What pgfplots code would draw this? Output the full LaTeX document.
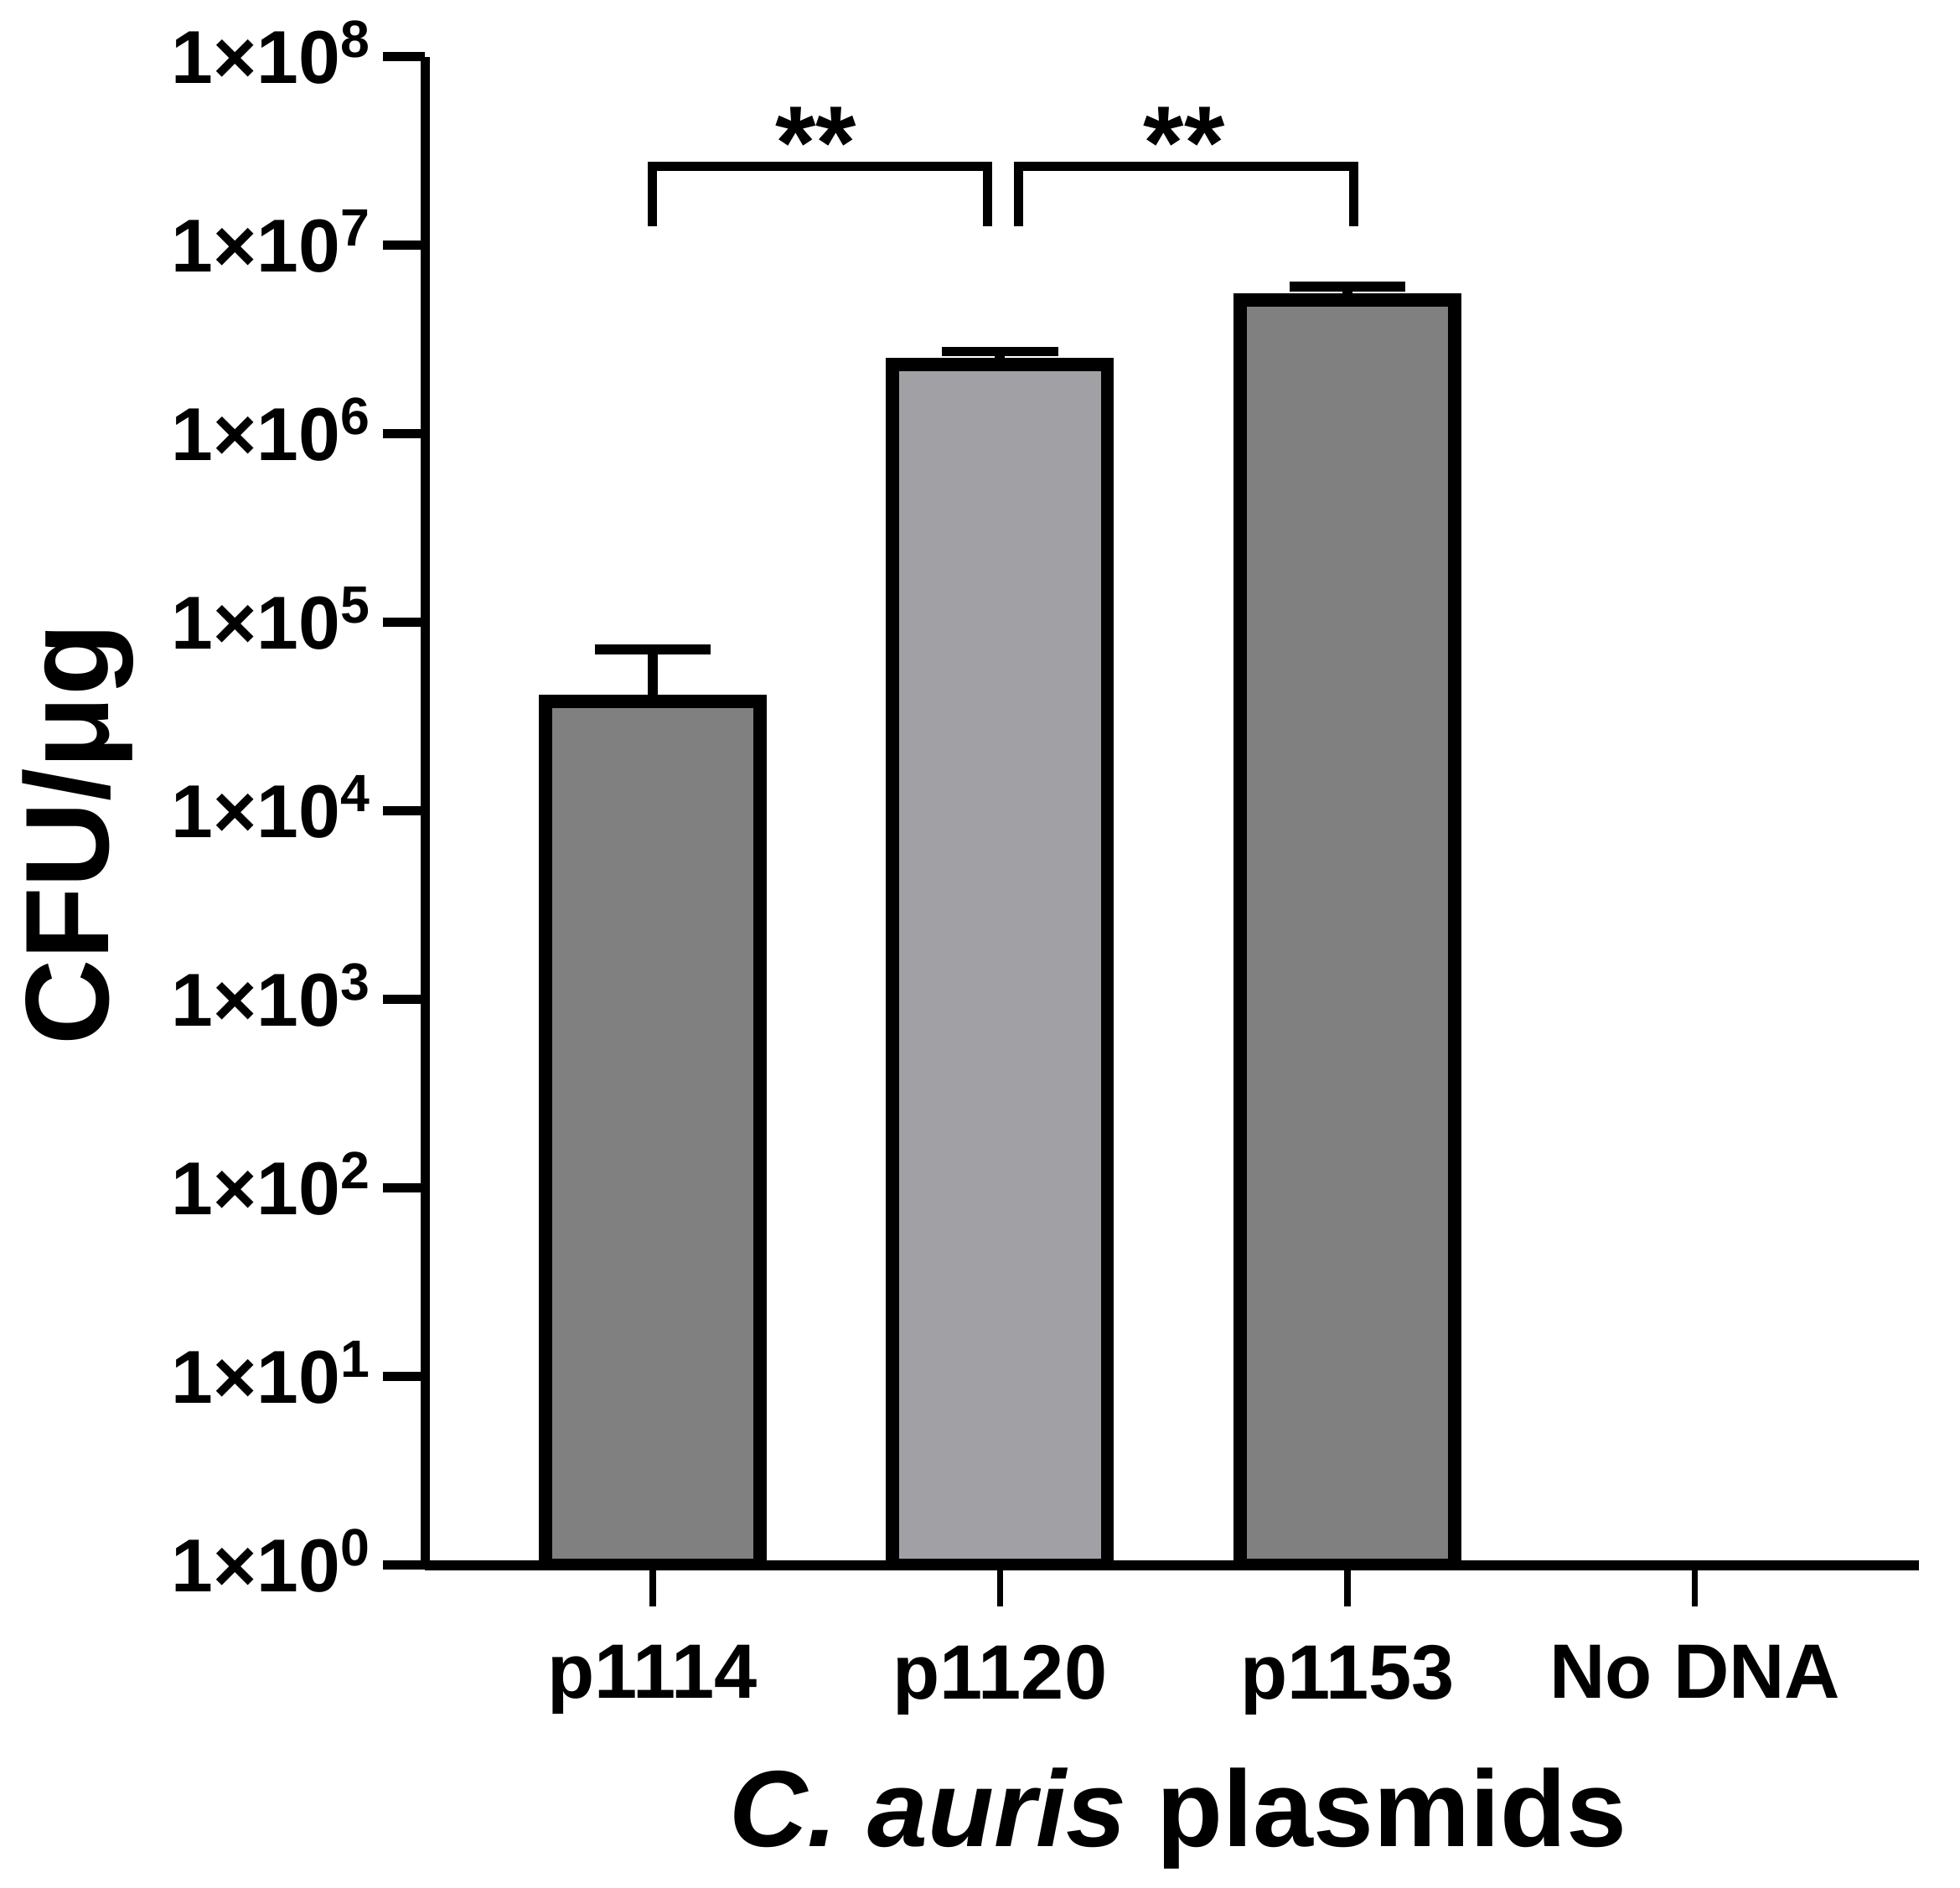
\documentclass[border=0pt]{standalone}
\usepackage{fontspec}
\setmainfont{Liberation Sans}
\usepackage{pgfplots}
\pgfplotsset{compat=1.18}
\definecolor{darkbar}{HTML}{808080}
\definecolor{lightbar}{HTML}{A1A0A5}
\begin{document}
\begin{tikzpicture}
\begin{axis}[
  name=ax,
  width=358.5pt, height=362pt, scale only axis,
  ymode=log, ymin=1, ymax=1e8,
  xmin=-0.655, xmax=3.644,
  axis x line=bottom, axis y line=left,
  x axis line style={-, line width=2.4pt},
  y axis line style={-, line width=2.2pt},
  tick align=outside,
  major tick length=10pt,
  xtick={0,1,2,3},
  xticklabels={p1114,p1120,p1153,No DNA},
  ytick={1,10,100,1000,10000,100000,1000000,10000000,100000000},
  yticklabels={1×10\textsuperscript{0},1×10\textsuperscript{1},1×10\textsuperscript{2},1×10\textsuperscript{3},1×10\textsuperscript{4},1×10\textsuperscript{5},1×10\textsuperscript{6},1×10\textsuperscript{7},1×10\textsuperscript{8}},
  yminorticks=false,
  xtick style={line width=1.5pt, black},
  ytick style={line width=2.2pt, black},
  xticklabel style={font=\bfseries\fontsize{18.5}{18.5}\selectfont, inner sep=0pt, anchor=north},
  xticklabel shift=9pt,
  yticklabel style={font=\bfseries\fontsize{18}{18}\selectfont, inner sep=0pt, anchor=base east, yshift=-6.5pt},
  yticklabel shift=2.6pt,
  xlabel={\textit{C. auris} plasmids},
  ylabel={CFU/μg},
  xlabel style={font=\bfseries\fontsize{26}{26}\selectfont, at={([xshift=1.5pt,yshift=-67.5pt]axis description cs:0.5,0)}, anchor=base},
  ylabel style={font=\bfseries\fontsize{28.5}{28.5}\selectfont, at={([xshift=-76pt,yshift=-5.7pt]axis description cs:0,0.5)}, anchor=base},
]
\addplot[ybar, bar width=51.5pt, bar shift=0pt, fill=darkbar, draw=black, line width=3.2pt,
  error bars/.cd, y dir=plus, y explicit,
  error bar style={line width=2.4pt, black},
  error mark options={rotate=90, mark size=13.9pt, line width=2.4pt, black}]
  coordinates {(0,3.8e4) +- (0,3.4e4)};
\addplot[ybar, bar width=51.5pt, bar shift=0pt, fill=lightbar, draw=black, line width=3.2pt,
  error bars/.cd, y dir=plus, y explicit,
  error bar style={line width=2.4pt, black},
  error mark options={rotate=90, mark size=13.9pt, line width=2.4pt, black}]
  coordinates {(1,2.34e6) +- (0,0.39e6)};
\addplot[ybar, bar width=51.5pt, bar shift=0pt, fill=darkbar, draw=black, line width=3.2pt,
  error bars/.cd, y dir=plus, y explicit,
  error bar style={line width=2.4pt, black},
  error mark options={rotate=90, mark size=13.9pt, line width=2.4pt, black}]
  coordinates {(2,5.1e6) +- (0,0.93e6)};
\addplot[black, line width=2.2pt, mark=none] coordinates {(0,1.26e7) (0,2.61e7) (0.964,2.61e7) (0.964,1.26e7)};
\addplot[black, line width=2.2pt, mark=none] coordinates {(1.054,1.26e7) (1.054,2.61e7) (2.018,2.61e7) (2.018,1.26e7)};
\node[font=\bfseries\fontsize{25}{25}\selectfont, anchor=base, inner sep=0pt] at (axis cs:0.47,2.25e7) {**};
\node[font=\bfseries\fontsize{25}{25}\selectfont, anchor=base, inner sep=0pt] at (axis cs:1.53,2.25e7) {**};
\end{axis}
\pgfresetboundingbox
\path (ax.south west) ++(-102pt,-77.4pt) rectangle ++(470.4pt,453pt);
\end{tikzpicture}
\end{document}
